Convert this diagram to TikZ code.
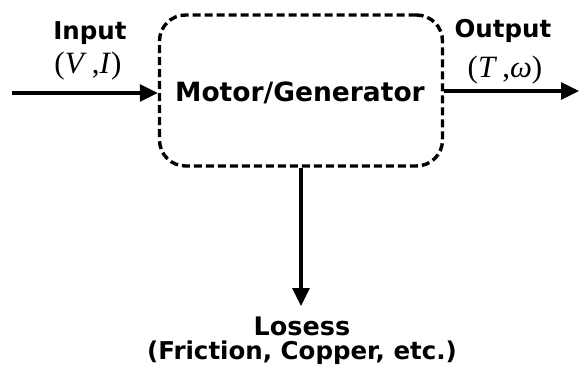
\documentclass[tikz,border=0pt]{standalone}
\usepackage{fontspec}
\setmainfont{DejaVu Sans}
\newfontfamily\tnrfont{Liberation Serif}
\usetikzlibrary{arrows.meta}
\tikzset{
  lbl/.style={font=\fontsize{24.5}{28}\selectfont\bfseries, inner sep=0pt},
  big/.style={font=\fontsize{26.5}{30}\selectfont\bfseries, inner sep=0pt},
  lossstyle/.style={font=\fontsize{25.5}{30}\selectfont\bfseries, inner sep=0pt},
  detstyle/.style={font=\fontsize{24.5}{29}\selectfont\bfseries, inner sep=0pt},
  mathlbl/.style={font=\fontsize{31}{34}\selectfont\tnrfont, inner sep=0pt},
  flow/.style={line width=3.2pt, -{Triangle[length=18pt,width=17pt]}},
  mgbox/.style={draw, line width=3.4pt, dash pattern=on 8pt off 4pt, rounded corners=26pt,
    minimum width=283pt, minimum height=151pt, inner sep=0pt}
}
\begin{document}
\begin{tikzpicture}[x=1pt,y=-1pt]
\useasboundingbox (0,0) rectangle (580,369);
\node[mgbox] (mg) at (301,90.5) {};
\node[big] (mgtext) at (300,93) {Motor/Generator};
\node[lbl] (inlbl) at (90,33) {Input};
\node[mathlbl] (inmath) at (88,66) {(\textit{V}\,,\textit{I})};
\node[lbl] (outlbl) at (503,31) {Output};
\node[mathlbl] (outmath) at (505,70) {(\textit{T}\,,\textit{ω})};
\node[lossstyle] (loss) at (302,326) {Losess};
\node[detstyle] (lossdet) at (302,353) {(Friction, Copper, etc.)};
\coordinate (instart) at (12,93);
\coordinate (outend) at (579,91);
\coordinate (losstip) at (302,306);
\draw[flow] (instart) -- (instart -| mg.west);
\draw[flow] (outend -| mg.east) -- (outend);
\draw[flow] (mg.south) -- (mg.south |- losstip);
\end{tikzpicture}
\end{document}
